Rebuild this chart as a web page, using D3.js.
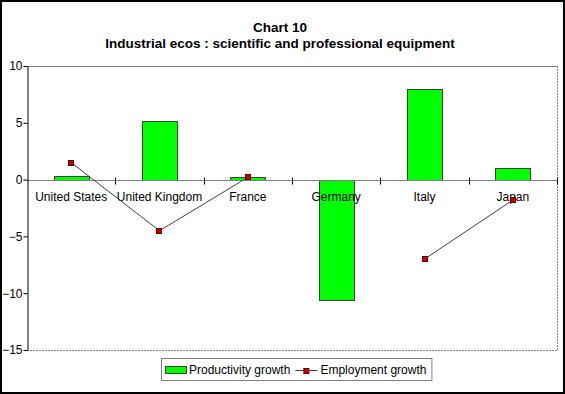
<!DOCTYPE html>
<html lang="en">
<head>
  <meta charset="utf-8">
  <title>Chart 10</title>
  <script src="https://d3js.org/d3.v7.min.js"></script>
  <style>
    body { margin: 0; background: #fff; }
    svg text { font-family: "Liberation Sans", Arial, sans-serif; fill: #000; }
  </style>
</head>
<body>
<script>
  var countries = ["United States", "United Kingdom", "France", "Germany", "Italy", "Japan"];
  var productivity = [0.3, 5.2, 0.2, -10.6, 8.0, 1.0];
  var employment = [1.5, -4.5, 0.2, null, -7.0, -1.8];
  var yTicks = [-15, -10, -5, 0, 5, 10];
  var titleLines = ["Chart 10", "Industrial ecos : scientific and professional equipment"];
  var seriesNames = ["Productivity growth", "Employment growth"];

  var width = 565, height = 394;
  var plotLeft = 27, plotRight = 557, plotTop = 66, plotBottom = 350;

  var svg = d3.select("body").append("svg")
      .attr("width", width)
      .attr("height", height);

  // outer frame
  svg.append("rect")
      .attr("x", 1).attr("y", 1)
      .attr("width", width - 2).attr("height", height - 2)
      .attr("fill", "#fff")
      .attr("stroke", "#000")
      .attr("stroke-width", 2);

  svg.selectAll(".title")
      .data(titleLines)
      .enter().append("text")
      .attr("x", 280)
      .attr("y", function(d, i) { return 32 + i * 16; })
      .attr("text-anchor", "middle")
      .attr("font-size", "13.5px")
      .attr("font-weight", "bold")
      .text(function(d) { return d; });

  var x = d3.scaleBand()
      .domain(countries)
      .range([plotLeft, plotRight])
      .paddingInner(0.6)
      .paddingOuter(0.3);

  var y = d3.scaleLinear()
      .domain([-15, 10])
      .range([plotBottom, plotTop]);

  // plot area border
  svg.append("line")
      .attr("x1", plotLeft).attr("x2", plotRight)
      .attr("y1", plotTop + 0.5).attr("y2", plotTop + 0.5)
      .attr("stroke", "#808080");
  svg.append("path")
      .attr("d", "M" + (plotRight + 0.5) + "," + plotTop + "V" + (plotBottom + 0.5) + "H" + plotLeft)
      .attr("fill", "none")
      .attr("stroke", "#808080")
      .attr("stroke-dasharray", "2,1");

  // bars
  svg.selectAll(".bar")
      .data(countries)
      .enter().append("rect")
      .attr("x", function(d) { return Math.round(x(d)) + 0.5; })
      .attr("y", function(d, i) { return Math.round(y(Math.max(0, productivity[i]))) + 0.5; })
      .attr("width", Math.round(x.bandwidth()))
      .attr("height", function(d, i) { return Math.abs(Math.round(y(productivity[i])) - Math.round(y(0))); })
      .attr("fill", "#00ff00")
      .attr("stroke", "#404040")
      .attr("stroke-width", 1);

  // category axis at zero
  var zeroY = Math.round(y(0)) + 0.5;
  svg.append("line")
      .attr("x1", plotLeft).attr("x2", plotRight)
      .attr("y1", zeroY).attr("y2", zeroY)
      .attr("stroke", "#808080")
      .attr("stroke-width", 1);
  var step = x.step();
  svg.selectAll(".ctick")
      .data(countries.slice(1).concat(["end"]))
      .enter().append("line")
      .attr("x1", function(d, i) { return Math.round(plotLeft + (i + 1) * step) + 0.5; })
      .attr("x2", function(d, i) { return Math.round(plotLeft + (i + 1) * step) + 0.5; })
      .attr("y1", zeroY - 3).attr("y2", zeroY + 4)
      .attr("stroke", "#000");

  svg.selectAll(".clabel")
      .data(countries)
      .enter().append("text")
      .attr("x", function(d) { return x(d) + x.bandwidth() / 2; })
      .attr("y", zeroY + 20)
      .attr("text-anchor", "middle")
      .attr("font-size", "12px")
      .text(function(d) { return d; });

  // value axis
  var yAxis = svg.append("g")
      .attr("transform", "translate(" + (plotLeft + 0.5) + ",0)")
      .call(d3.axisLeft(y).tickValues(yTicks).tickSize(4).tickSizeOuter(0));
  yAxis.select(".domain").attr("stroke", "#000");
  yAxis.selectAll(".tick line").attr("stroke", "#000");
  yAxis.selectAll(".tick text")
      .attr("font-size", "12px")
      .attr("font-family", "'Liberation Sans', Arial, sans-serif")
      .attr("fill", "#000")
      .attr("x", -5);

  // employment line
  var line = d3.line()
      .defined(function(d) { return d != null; })
      .x(function(d, i) { return x(countries[i]) + x.bandwidth() / 2; })
      .y(function(d) { return y(d); });

  svg.append("path")
      .datum(employment)
      .attr("d", line)
      .attr("fill", "none")
      .attr("stroke", "#404040")
      .attr("stroke-width", 1);

  svg.selectAll(".marker")
      .data(employment.map(function(v, i) { return {c: countries[i], v: v}; })
        .filter(function(d) { return d.v != null; }))
      .enter().append("rect")
      .attr("x", function(d) { return Math.round(x(d.c) + x.bandwidth() / 2) - 2.5; })
      .attr("y", function(d) { return Math.round(y(d.v)) - 2.5; })
      .attr("width", 5).attr("height", 5)
      .attr("fill", "#cc0000")
      .attr("stroke", "#600000");

  // legend
  var legend = svg.append("g");
  var box = legend.append("rect")
      .attr("fill", "#fff")
      .attr("stroke", "#808080");
  legend.append("rect")
      .attr("x", 4.5).attr("y", 8.5)
      .attr("width", 21).attr("height", 7)
      .attr("fill", "#00ff00")
      .attr("stroke", "#404040");
  var t1 = legend.append("text")
      .attr("x", 28).attr("y", 16)
      .attr("font-size", "12px")
      .text(seriesNames[0]);
  var lx = 28 + t1.node().getComputedTextLength() + 5;
  legend.append("line")
      .attr("x1", lx).attr("x2", lx + 22)
      .attr("y1", 12.5).attr("y2", 12.5)
      .attr("stroke", "#404040");
  legend.append("rect")
      .attr("x", lx + 8.5).attr("y", 10.5)
      .attr("width", 5).attr("height", 5)
      .attr("fill", "#cc0000")
      .attr("stroke", "#600000");
  var t2 = legend.append("text")
      .attr("x", lx + 25).attr("y", 16)
      .attr("font-size", "12px")
      .text(seriesNames[1]);
  var lw = lx + 25 + t2.node().getComputedTextLength() + 5;
  box.attr("x", 0.5).attr("y", 0.5).attr("width", lw).attr("height", 22);
  legend.attr("transform", "translate(" + Math.round(296 - lw / 2) + ",358)");
</script>
</body>
</html>
